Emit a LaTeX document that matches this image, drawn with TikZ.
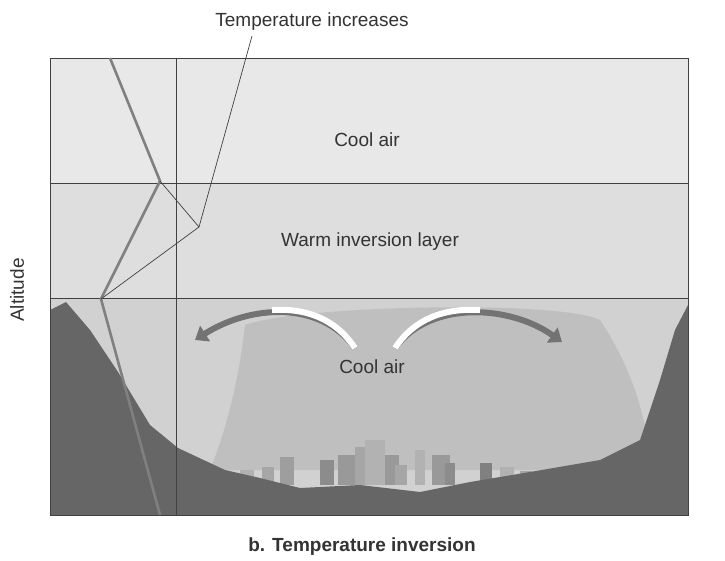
\documentclass[tikz,border=0pt]{standalone}
\usepackage{fontspec}
\setmainfont{Liberation Sans}
\usetikzlibrary{arrows.meta}
\begin{document}
\begin{tikzpicture}[x=1pt,y=-1pt,
  lbl/.style={font=\fontsize{19}{22}\selectfont, text=black!80},
  thinln/.style={black!75, line width=0.7pt},
  thickln/.style={black!50, line width=2.6pt, line join=round},
  flow/.style={line width=6pt, -{Triangle[length=12pt,width=18pt]}}]
\useasboundingbox (0,0) rectangle (725,561);
\fill[white] (0,0) rectangle (725,561);
% layers
\fill[black!9] (50,58) rectangle (688,183);
\fill[black!13] (50,183) rectangle (688,298);
\fill[black!18] (50,298) rectangle (688,515);
% haze
\fill[black!25] (245,325) .. controls (300,305) and (560,300) .. (600,320) .. controls (640,380) and (650,440) .. (650,470) -- (210,470) .. controls (230,420) and (240,370) .. (245,325);
% buildings
\foreach \x/\w/\h/\c in {240/14/15/30,262/12/18/35,280/14/28/38,320/14/25/45,338/18/30/40,355/12/38/35,365/20/45/30,385/14/30/40,395/12/20/35,415/10/35/30,432/18/30/40,445/10/22/45,480/12/22/50,500/14/18/30,520/12/14/35}
  \fill[black!\c] (\x,485) rectangle ++(\w,-\h);
% terrain
\fill[black!60] (50,515) -- (50,310) -- (66,302) -- (90,330) -- (118,372) -- (150,425) -- (178,448) -- (225,470) -- (260,478) -- (300,488) -- (360,485) -- (420,492) -- (470,482) -- (530,472) -- (600,460) -- (640,440) -- (660,380) -- (675,330) -- (688,305) -- (688,515) -- cycle;
% frame and lines
\draw[thinln] (50,58) rectangle (688,515);
\draw[thinln] (50,183) -- (688,183);
\draw[thinln] (50,298) -- (688,298);
\draw[thinln] (176,58) -- (176,515);
% profiles
\coordinate (t0) at (110,58);
\coordinate (t1) at (160,181);
\coordinate (t2) at (101,299);
\coordinate (t3) at (160,515);
\coordinate (w) at (199,227);
\coordinate (ts) at (252,36);
\draw[thickln] (t0) -- (t1) -- (t2) -- (t3);
\node[lbl] (ti) at (312,22) {Temperature increases};
\draw[thinln] (ts) -- (w) -- (t1);
\draw[thinln] (w) -- (t2);
% arrows
\draw[flow, black!55] (355,348) .. controls (320,300) and (250,305) .. (195,340);
\draw[line width=6pt, white] (355,348) .. controls (335,318) and (305,308) .. (272,310);
\draw[flow, black!55] (395,348) .. controls (430,300) and (510,305) .. (562,342);
\draw[line width=6pt, white] (395,348) .. controls (415,318) and (445,308) .. (480,310);
% labels
\node[lbl] (c1) at (367,140) {Cool air};
\node[lbl] (wl) at (370,242) {Warm inversion layer};
\node[lbl] (c2) at (372,367) {Cool air};
\node[lbl, rotate=90] (alt) at (17,290) {Altitude};
\node[lbl, font=\fontsize{19}{22}\selectfont\bfseries] (cap) at (362,547) {b. Temperature inversion};
\end{tikzpicture}
\end{document}
